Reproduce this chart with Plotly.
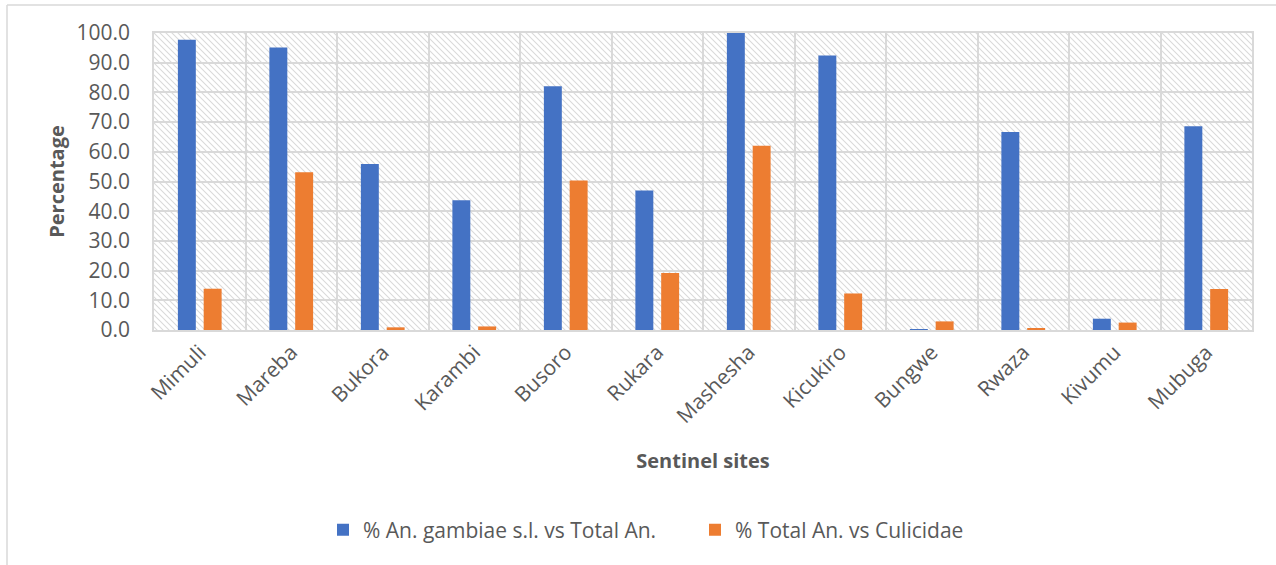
import base64
import plotly.graph_objects as go

# Sentinel sites and the two percentages per site
sites = ["Mimuli", "Mareba", "Bukora", "Karambi", "Busoro", "Rukara",
         "Mashesha", "Kicukiro", "Bungwe", "Rwaza", "Kivumu", "Mubuga"]
pct_gambiae_vs_total_an = [97.7, 95.1, 55.9, 43.7, 82.1, 47.0,
                           100.0, 92.4, 0.1, 66.7, 3.8, 68.6]
pct_total_an_vs_culicidae = [13.9, 53.1, 0.9, 1.2, 50.3, 19.2,
                             62.0, 12.3, 2.9, 0.5, 2.5, 13.8]
y_ticks = [0, 10, 20, 30, 40, 50, 60, 70, 80, 90, 100]

W, H = 1276, 565
M_L, M_R, M_T, M_B = 154, 24, 33, 235
PW, PH = W - M_L - M_R, H - M_T - M_B

TEXT = "#595959"
GRID = "#D9D9D9"
FONT = "Open Sans, Noto Sans, sans-serif"

# Diagonal hatch used as the plot-area background
hatch_svg = (
    f'<svg xmlns="http://www.w3.org/2000/svg" width="{PW}" height="{PH}" '
    f'viewBox="0 0 {PW} {PH}" preserveAspectRatio="none">'
    '<defs><pattern id="h" width="6" height="6" patternUnits="userSpaceOnUse">'
    '<path d="M-1,-1 L7,7 M-1,5 L1,7 M5,-1 L7,1" stroke="#dadada" '
    'stroke-width="1.1"/></pattern></defs>'
    f'<rect width="{PW}" height="{PH}" fill="white"/>'
    f'<rect width="{PW}" height="{PH}" fill="url(#h)"/></svg>'
)
hatch_uri = "data:image/svg+xml;base64," + base64.b64encode(hatch_svg.encode()).decode()

fig = go.Figure()
fig.add_trace(go.Bar(x=sites, y=pct_gambiae_vs_total_an,
                     name="% An. gambiae s.l. vs Total An.",
                     marker=dict(color="#4472C4", line=dict(width=0))))
fig.add_trace(go.Bar(x=sites, y=pct_total_an_vs_culicidae,
                     name="% Total An. vs Culicidae",
                     marker=dict(color="#ED7D31", line=dict(width=0))))

fig.update_layout(
    width=W, height=H,
    margin=dict(l=M_L, r=M_R, t=M_T, b=M_B, pad=0),
    paper_bgcolor="white", plot_bgcolor="rgba(0,0,0,0)",
    font=dict(family=FONT, color=TEXT, size=21),
    barmode="group", bargap=0.436, bargroupgap=0.305,
    showlegend=True,
    legend=dict(orientation="h", x=(337 - 14 - M_L) / PW, xanchor="left",
                y=(M_T + PH - 530) / PH, yanchor="middle",
                font=dict(size=21, color=TEXT), traceorder="normal",
                itemwidth=30, entrywidth=327, bgcolor="rgba(0,0,0,0)"),
    images=[dict(source=hatch_uri, xref="paper", yref="paper", x=0, y=1,
                 sizex=1, sizey=1, xanchor="left", yanchor="top",
                 sizing="stretch", layer="below")],
    shapes=[
        # outer chart frame (top and left edges visible)
        dict(type="line", xref="paper", yref="paper",
             x0=(7 - M_L) / PW, x1=(W + 5 - M_L) / PW,
             y0=(M_T + PH - 5) / PH, y1=(M_T + PH - 5) / PH,
             line=dict(color="#D9D9D9", width=1.5)),
        dict(type="line", xref="paper", yref="paper",
             x0=(7 - M_L) / PW, x1=(7 - M_L) / PW,
             y0=(M_T + PH - 5) / PH, y1=(M_T + PH - H - 5) / PH,
             line=dict(color="#D9D9D9", width=1.5)),
    ],
)

fig.update_xaxes(
    type="category", tickson="boundaries", ticks="",
    showgrid=True, gridcolor=GRID, gridwidth=1.5,
    showline=True, mirror=True, linecolor=GRID, linewidth=1.5,
    tickangle=-45, ticklabelstandoff=0,
    tickfont=dict(size=21, color=TEXT),
    title=dict(text="<b>Sentinel sites</b>", font=dict(size=20, color=TEXT),
               standoff=26),
    automargin=False,
)
fig.update_yaxes(
    range=[0, 100], tickvals=y_ticks, tickformat=".1f",
    showgrid=True, gridcolor=GRID, gridwidth=1.5, zeroline=False,
    showline=True, mirror=True, linecolor=GRID, linewidth=1.5,
    ticks="", ticklabelstandoff=18,
    tickfont=dict(size=21, color=TEXT),
    title=dict(text="<b>Percentage</b>", font=dict(size=20, color=TEXT),
               standoff=7),
    automargin=False,
)

fig.write_html("out.html")
